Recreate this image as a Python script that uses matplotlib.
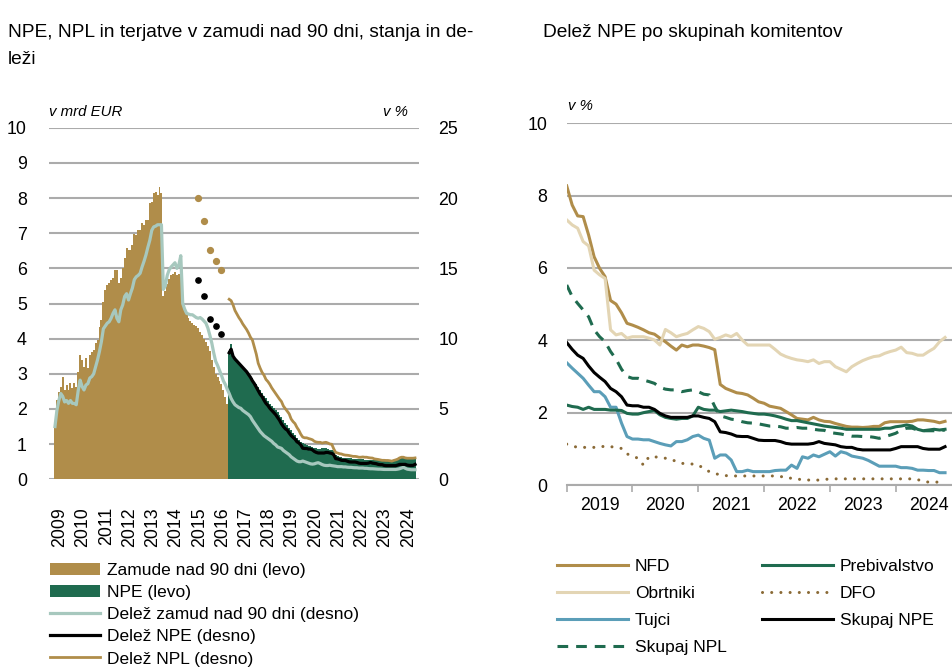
import numpy as np
import pandas as pd
import matplotlib.pyplot as plt
from matplotlib.ticker import FixedLocator

plt.rcParams['font.family'] = ['Liberation Sans', 'DejaVu Sans']

GOLD = '#B08D4A'
GREEN = '#1F6B4F'
TEAL = '#A7C8BE'
BEIGE = '#E3D5B4'
BLUE = '#5B9EB8'
BROWN = '#8A6A36'
GRID = '#ABABAB'

# ---- left panel: monthly stocks (bn EUR) and shares (%) ----
months_left = pd.period_range('2009-04', '2024-10', freq='M')

# arrears over 90 days, Apr 2009 - Sep 2016
arrears_bn = [1.55, 2.25, 2.49, 2.63, 2.92, 2.54, 2.68, 2.54, 2.73, 2.59,
              2.73, 2.63, 3.06, 3.53, 3.39, 3.20, 3.44, 3.16, 3.53, 3.63,
              3.68, 3.87, 3.96, 4.34, 4.53, 5.05, 5.38, 5.52, 5.57, 5.67,
              5.72, 5.95, 5.95, 5.57, 5.72, 6.00, 6.28, 6.57, 6.52, 6.52,
              6.66, 6.99, 6.95, 7.09, 7.09, 7.28, 7.23, 7.37, 7.37, 7.85,
              7.89, 8.13, 8.18, 8.08, 8.32, 8.13, 5.20, 5.35, 5.55, 5.70,
              5.80, 5.85, 5.90, 5.80, 5.85, 5.95, 5.10, 4.80, 4.70, 4.60,
              4.50, 4.45, 4.40, 4.35, 4.30, 4.20, 4.10, 4.00, 3.90, 3.80,
              3.65, 3.40, 3.20, 3.00, 2.90, 2.80, 2.70, 2.55, 2.35, 2.15]

# NPE, Oct 2016 - Oct 2024
npe_bn = [3.65, 3.85, 3.45, 3.40, 3.35, 3.30, 3.25, 3.20, 3.12, 3.05,
          3.00, 2.92, 2.87, 2.78, 2.70, 2.62, 2.54, 2.45, 2.38, 2.30,
          2.22, 2.15, 2.08, 2.02, 1.98, 1.90, 1.82, 1.76, 1.70, 1.60,
          1.54, 1.47, 1.40, 1.32, 1.25, 1.18, 1.12, 1.07, 1.03, 1.00,
          0.97, 0.96, 0.94, 0.93, 0.90, 0.88, 0.87, 0.86, 0.88, 0.90,
          0.88, 0.86, 0.84, 0.82, 0.80, 0.70, 0.66, 0.64, 0.63, 0.62,
          0.61, 0.60, 0.60, 0.60, 0.59, 0.59, 0.58, 0.58, 0.57, 0.57,
          0.56, 0.56, 0.56, 0.55, 0.55, 0.55, 0.54, 0.54, 0.54, 0.54,
          0.54, 0.54, 0.54, 0.55, 0.55, 0.56, 0.57, 0.58, 0.59, 0.60,
          0.60, 0.60, 0.60, 0.60, 0.60, 0.60, 0.60]

# share of arrears over 90 days (%), Apr 2009 - Oct 2024
arrears_share = [3.75, 4.90, 5.60, 6.10, 5.90, 5.50, 5.60, 5.40, 5.60, 5.40,
                 5.40, 5.30, 6.30, 7.05, 6.60, 6.35, 6.70, 6.80, 7.20, 7.30,
                 7.50, 8.00, 8.50, 9.10, 9.80, 10.70, 10.90, 11.10, 11.20, 11.45,
                 11.80, 12.05, 11.45, 11.20, 12.05, 12.40, 13.00, 13.20, 12.75, 13.20,
                 13.60, 14.20, 14.40, 14.50, 14.65, 15.10, 15.50, 15.95, 16.50, 17.00,
                 17.70, 17.95, 18.00, 18.10, 18.10, 18.10, 13.50, 13.75, 14.50, 14.90,
                 15.10, 15.25, 15.40, 15.00, 15.25, 15.90, 12.50, 12.10, 11.80, 11.75,
                 11.70, 11.70, 11.60, 11.50, 11.45, 11.50, 11.40, 11.25, 11.10, 10.75,
                 10.25, 9.70, 9.00, 8.40, 8.10, 7.75, 7.40, 7.00, 6.75, 6.40,
                 6.10, 5.75, 5.50, 5.30, 5.20, 5.10, 5.05, 4.90, 4.80, 4.70,
                 4.60, 4.45, 4.20, 4.00, 3.80, 3.60, 3.40, 3.25, 3.10, 3.00,
                 2.90, 2.80, 2.70, 2.55, 2.45, 2.30, 2.25, 2.20, 2.05, 1.95,
                 1.85, 1.75, 1.60, 1.50, 1.40, 1.30, 1.25, 1.25, 1.30, 1.25,
                 1.20, 1.15, 1.10, 1.08, 1.10, 1.15, 1.18, 1.12, 1.05, 1.00,
                 0.98, 0.98, 1.00, 0.97, 0.95, 0.93, 0.90, 0.90, 0.90, 0.88,
                 0.88, 0.86, 0.85, 0.85, 0.83, 0.82, 0.82, 0.80, 0.80, 0.80,
                 0.78, 0.78, 0.76, 0.75, 0.75, 0.74, 0.73, 0.72, 0.72, 0.71,
                 0.70, 0.70, 0.70, 0.70, 0.70, 0.70, 0.70, 0.72, 0.75, 0.80,
                 0.85, 0.78, 0.72, 0.70, 0.68, 0.68, 0.68]

# NPE / NPL shares (%), Oct 2016 - Dec 2018 (continued by the totals below)
npe_share_2016_2018 = [9.00, 9.25, 8.75, 8.55, 8.40, 8.25, 8.10, 7.95, 7.80,
                       7.65, 7.45, 7.25, 7.00, 6.80, 6.55, 6.30, 6.05, 5.88,
                       5.62, 5.40, 5.25, 5.05, 4.90, 4.75, 4.60, 4.40, 4.20]
npl_share_2016_2018 = [12.80, 12.70, 12.40, 12.00, 11.75, 11.50, 11.30, 11.05, 10.85,
                       10.65, 10.40, 10.10, 9.90, 9.40, 8.90, 8.25, 7.90, 7.60,
                       7.40, 7.10, 6.95, 6.75, 6.50, 6.30, 6.10, 5.90, 5.70]

# quarterly shares before the monthly series
quarters = ['2015-06', '2015-09', '2015-12', '2016-03', '2016-06']
npe_share_q = [14.2, 13.0, 11.4, 10.9, 10.3]
npl_share_q = [20.0, 18.4, 16.3, 15.5, 14.9]

# ---- right panel: NPE share by client segment (%), Jan 2019 - Oct 2024 ----
months_right = pd.period_range('2019-01', '2024-10', freq='M')
nfd = [8.27, 7.74, 7.44, 7.42, 6.91, 6.31, 5.99, 5.76, 5.10, 5.00,
       4.76, 4.47, 4.42, 4.36, 4.29, 4.21, 4.17, 4.06, 3.96, 3.84,
       3.73, 3.87, 3.82, 3.87, 3.87, 3.84, 3.80, 3.74, 2.78, 2.67,
       2.61, 2.55, 2.53, 2.49, 2.40, 2.30, 2.26, 2.18, 2.15, 2.12,
       2.03, 1.94, 1.84, 1.82, 1.80, 1.87, 1.80, 1.76, 1.75, 1.70,
       1.66, 1.62, 1.60, 1.60, 1.59, 1.60, 1.62, 1.62, 1.72, 1.75,
       1.75, 1.75, 1.75, 1.76, 1.80, 1.80, 1.78, 1.76, 1.72, 1.76]
obrtniki = [7.33, 7.19, 7.10, 6.73, 6.61, 5.94, 5.81, 5.71, 4.29, 4.15,
            4.19, 4.06, 4.10, 4.10, 4.10, 4.06, 4.01, 3.87, 4.30, 4.21,
            4.10, 4.15, 4.19, 4.29, 4.38, 4.33, 4.24, 4.03, 4.08, 4.15,
            4.10, 4.19, 4.01, 3.87, 3.87, 3.87, 3.87, 3.87, 3.75, 3.62,
            3.55, 3.50, 3.46, 3.44, 3.41, 3.46, 3.36, 3.41, 3.41, 3.27,
            3.20, 3.13, 3.27, 3.36, 3.44, 3.50, 3.55, 3.57, 3.64, 3.69,
            3.73, 3.81, 3.66, 3.64, 3.59, 3.59, 3.69, 3.78, 3.96, 4.08]
tujci = [3.38, 3.23, 3.09, 2.95, 2.76, 2.58, 2.58, 2.44, 2.15, 2.15,
         1.71, 1.34, 1.27, 1.27, 1.25, 1.25, 1.20, 1.15, 1.11, 1.08,
         1.20, 1.20, 1.25, 1.34, 1.38, 1.29, 1.24, 0.74, 0.83, 0.83,
         0.69, 0.37, 0.37, 0.41, 0.37, 0.37, 0.37, 0.37, 0.40, 0.41,
         0.41, 0.55, 0.46, 0.78, 0.74, 0.83, 0.78, 0.85, 0.92, 0.80,
         0.92, 0.88, 0.80, 0.77, 0.74, 0.68, 0.60, 0.52, 0.52, 0.52,
         0.52, 0.48, 0.48, 0.46, 0.41, 0.41, 0.40, 0.40, 0.34, 0.34]
total_npl = [5.53, 5.21, 5.02, 4.84, 4.65, 4.29, 4.10, 3.96, 3.69, 3.48,
             3.20, 3.00, 2.95, 2.95, 2.90, 2.86, 2.81, 2.70, 2.65, 2.63,
             2.63, 2.58, 2.61, 2.63, 2.58, 2.51, 2.49, 2.17, 1.91, 1.87,
             1.82, 1.80, 1.75, 1.72, 1.71, 1.69, 1.66, 1.63, 1.63, 1.61,
             1.57, 1.57, 1.59, 1.57, 1.57, 1.54, 1.52, 1.51, 1.45, 1.43,
             1.41, 1.38, 1.35, 1.35, 1.34, 1.34, 1.32, 1.29, 1.34, 1.38,
             1.43, 1.52, 1.57, 1.57, 1.52, 1.50, 1.50, 1.50, 1.50, 1.52]
prebivalstvo = [2.21, 2.17, 2.15, 2.09, 2.15, 2.09, 2.09, 2.09, 2.07, 2.07,
                2.06, 1.98, 1.96, 1.96, 2.00, 2.03, 2.06, 1.94, 1.87, 1.84,
                1.82, 1.84, 1.84, 1.91, 2.15, 2.09, 2.07, 2.07, 2.03, 2.05,
                2.07, 2.05, 2.03, 2.00, 1.98, 1.96, 1.96, 1.94, 1.91, 1.87,
                1.82, 1.78, 1.78, 1.75, 1.72, 1.69, 1.66, 1.63, 1.61, 1.59,
                1.57, 1.54, 1.54, 1.54, 1.54, 1.54, 1.54, 1.54, 1.57, 1.57,
                1.61, 1.63, 1.66, 1.63, 1.54, 1.50, 1.52, 1.54, 1.52, 1.54]
dfo = [1.13, 1.08, 1.04, 1.04, 1.04, 1.04, 1.04, 1.08, 1.06, 1.04,
       1.01, 0.86, 0.80, 0.74, 0.55, 0.78, 0.78, 0.76, 0.74, 0.71,
       0.65, 0.60, 0.58, 0.58, 0.55, 0.46, 0.37, 0.32, 0.28, 0.26,
       0.25, 0.25, 0.25, 0.25, 0.25, 0.25, 0.25, 0.25, 0.25, 0.23,
       0.23, 0.18, 0.17, 0.14, 0.14, 0.12, 0.14, 0.15, 0.17, 0.17,
       0.17, 0.17, 0.17, 0.17, 0.17, 0.17, 0.17, 0.17, 0.17, 0.17,
       0.17, 0.17, 0.17, 0.17, 0.15, 0.10, 0.08, 0.08, 0.08, 0.08]
total_npe = [3.94, 3.75, 3.59, 3.50, 3.29, 3.11, 2.98, 2.86, 2.67, 2.58,
             2.44, 2.21, 2.19, 2.19, 2.15, 2.15, 2.09, 1.98, 1.91, 1.87,
             1.87, 1.87, 1.87, 1.91, 1.91, 1.87, 1.84, 1.75, 1.47, 1.45,
             1.41, 1.35, 1.34, 1.34, 1.29, 1.24, 1.23, 1.23, 1.23, 1.20,
             1.15, 1.13, 1.13, 1.13, 1.13, 1.15, 1.20, 1.15, 1.13, 1.11,
             1.06, 1.04, 1.04, 0.99, 0.97, 0.97, 0.97, 0.97, 0.97, 0.97,
             1.01, 1.06, 1.06, 1.06, 1.06, 1.01, 0.99, 0.99, 0.99, 1.06]


def decimal_year(periods):
    return np.asarray(periods.year + (periods.month - 1) / 12, dtype=float)


t_left = decimal_year(months_left)
edges = np.r_[t_left, t_left[-1] + 1 / 12]
n_arr = len(arrears_bn)
npe_share = np.r_[npe_share_2016_2018, total_npe]
npl_share = np.r_[npl_share_2016_2018, total_npl]
t_q = decimal_year(pd.PeriodIndex(quarters, freq='M')) + 1 / 24

fig = plt.figure(figsize=(9.53, 6.69), dpi=100)
W, H = 953, 669

# ================= left panel =================
ax = fig.add_axes([49 / W, 1 - 479.3 / H, 370 / W, 351.6 / H])
ax.set_axisbelow(True)
# monthly columns drawn as one filled step outline so no seams show
bar_arr = ax.stairs(arrears_bn, edges[:n_arr + 1], fill=True, color=GOLD,
                    label='Zamude nad 90 dni (levo)')
bar_npe = ax.stairs(npe_bn, edges[n_arr:], fill=True, color=GREEN,
                    label='NPE (levo)')
ax.set_xlim(2009.035, 2024.963)
ax.set_ylim(0, 10)
ax.set_yticks(range(0, 11))
ax.grid(axis='y', color=GRID, linewidth=1.5)
ax.tick_params(axis='y', length=0, pad=16, labelsize=12.8)
ax.xaxis.set_major_locator(FixedLocator(np.arange(2009, 2025) + 0.5))
ax.set_xticklabels([str(y) for y in range(2009, 2025)], rotation=90,
                   va='top', ha='center')
ax.tick_params(axis='x', length=0, pad=20, labelsize=12.8)
for s in ax.spines.values():
    s.set_visible(False)

ax2 = ax.twinx()
ax2.set_ylim(0, 25)
ax2.set_yticks(range(0, 26, 5))
ax2.tick_params(axis='y', length=0, pad=14, labelsize=12.8)
for s in ax2.spines.values():
    s.set_visible(False)

tc = t_left + 1 / 24
ln_arr, = ax2.plot(tc, arrears_share, color=TEAL, lw=2.3,
                   label='Delež zamud nad 90 dni (desno)')
ln_npe, = ax2.plot(tc[n_arr:], npe_share, color='black', lw=2.3,
                   label='Delež NPE (desno)')
ln_npl, = ax2.plot(tc[n_arr:], npl_share, color=GOLD, lw=2.0,
                   label='Delež NPL (desno)')
ax2.plot(t_q, npe_share_q, 'o', color='black', ms=3.8)
ax2.plot(t_q, npl_share_q, 'o', color=GOLD, ms=4.2)

fig.legend(handles=[bar_arr, bar_npe, ln_arr, ln_npe, ln_npl],
           loc='upper left', bbox_to_anchor=(50 / W, 1 - 563 / H),
           frameon=False, fontsize=12.5, borderpad=0, borderaxespad=0,
           handlelength=2.9, handletextpad=0.4, labelspacing=0.40)

fig.text(49 / W, 1 - 116 / H, 'v mrd EUR', fontsize=10.8, style='italic')
fig.text(408 / W, 1 - 116 / H, 'v %', fontsize=10.8, style='italic', ha='right')
fig.text(8 / W, 1 - 37 / H,
         'NPE, NPL in terjatve v zamudi nad 90 dni, stanja in de-',
         fontsize=13.8, va='baseline')
fig.text(8 / W, 1 - 64 / H, 'leži', fontsize=13.8, va='baseline')

# ================= right panel =================
t_right = decimal_year(months_right)
bx = fig.add_axes([566.7 / W, 1 - 485 / H, (W - 566.7) / W, 361.7 / H])
bx.set_axisbelow(True)
bx.plot(t_right, nfd, color=GOLD, lw=2.2, label='NFD')
bx.plot(t_right, obrtniki, color=BEIGE, lw=2.2, label='Obrtniki')
bx.plot(t_right, tujci, color=BLUE, lw=2.2, label='Tujci')
bx.plot(t_right, total_npl, color=GREEN, lw=2.2, ls=(0, (3.5, 2.6)),
        label='Skupaj NPL')
bx.plot(t_right, prebivalstvo, color=GREEN, lw=2.2, label='Prebivalstvo')
bx.plot(t_right, dfo, color=BROWN, lw=2.2, ls=(0, (0.01, 3.0)),
        dash_capstyle='round', label='DFO')
bx.plot(t_right, total_npe, color='black', lw=2.2, label='Skupaj NPE')

bx.set_xlim(2019.0, 2024.871)
bx.set_ylim(0, 10)
bx.set_yticks(range(0, 11, 2))
bx.grid(axis='y', color=GRID, linewidth=1.5)
bx.tick_params(axis='y', length=0, pad=14, labelsize=12.8)
bx.set_xticks(np.arange(2019, 2025))
bx.set_xticklabels([])
bx.set_xticks(np.arange(2019, 2025) + 0.5, minor=True)
bx.set_xticklabels([str(y) for y in range(2019, 2025)], minor=True)
bx.tick_params(axis='x', which='major', length=5, width=1.2, color=GRID,
               direction='out')
bx.tick_params(axis='x', which='minor', length=0, pad=9, labelsize=12.8)
for name, s in bx.spines.items():
    s.set_visible(name == 'bottom')
bx.spines['bottom'].set_color(GRID)
bx.spines['bottom'].set_linewidth(1.5)

bx.legend(loc='upper left', bbox_to_anchor=(557 / W, 1 - 559 / H),
          bbox_transform=fig.transFigure, ncol=2, frameon=False,
          fontsize=12.5, borderpad=0, borderaxespad=0, handlelength=4.1,
          handletextpad=0.4, labelspacing=0.68, columnspacing=2.0)

fig.text(568 / W, 1 - 110 / H, 'v %', fontsize=10.8, style='italic')
fig.text(543 / W, 1 - 37 / H, 'Delež NPE po skupinah komitentov',
         fontsize=13.8, va='baseline')

fig.savefig('out.png', dpi=100)
